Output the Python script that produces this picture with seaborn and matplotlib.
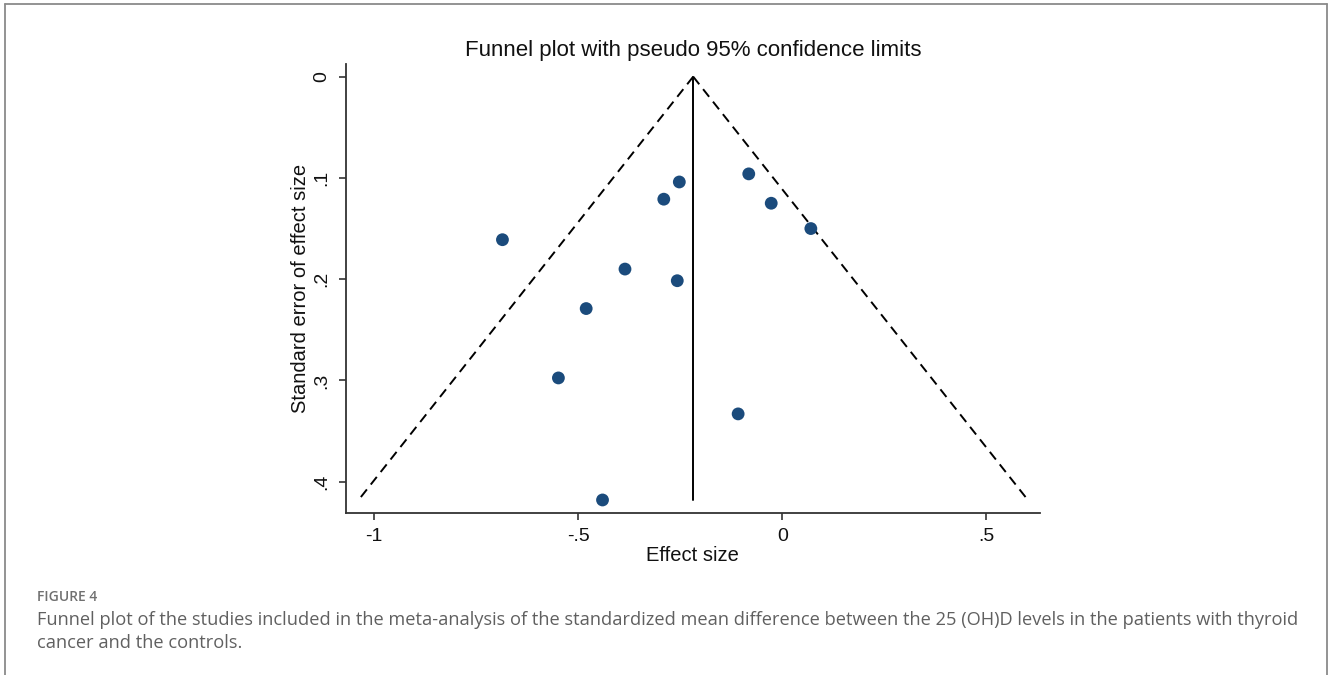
import matplotlib
matplotlib.use("Agg")
import matplotlib.pyplot as plt
import seaborn as sns
import numpy as np
import pandas as pd

# Study-level effect sizes (standardized mean difference) and their standard errors
effect = [-0.685, -0.290, -0.252, -0.082, -0.027, 0.070, -0.385, -0.257, -0.480, -0.548, -0.108, -0.440]
std_err = [0.161, 0.121, 0.104, 0.096, 0.125, 0.150, 0.190, 0.2015, 0.229, 0.2975, 0.333, 0.418]
pooled = -0.218

x_ticks = [-1, -0.5, 0, 0.5]
x_tick_labels = ["-1", "-.5", "0", ".5"]
y_ticks = [0, 0.1, 0.2, 0.3, 0.4]
y_tick_labels = ["0", ".1", ".2", ".3", ".4"]

df = pd.DataFrame({"effect": effect, "se": std_err})

sns.set_theme(style="white")
plt.rcParams["font.family"] = ["Liberation Sans", "DejaVu Sans"]

fig = plt.figure(figsize=(13.28, 6.75), dpi=100)
ax = fig.add_axes([0.2603, 0.2404, 0.7831 - 0.2603, 0.9052 - 0.2404])

# pseudo 95% confidence limits
se_max = max(std_err)
se_line = np.array([0.0, se_max])
ax.plot(pooled - 1.96 * se_line, se_line, color="black", lw=1.4, ls=(0, (5, 3.2)))
ax.plot(pooled + 1.96 * se_line, se_line, color="black", lw=1.4, ls=(0, (5, 3.2)))
ax.plot([pooled, pooled], [0, se_max], color="black", lw=1.4)

sns.scatterplot(data=df, x="effect", y="se", ax=ax, color="#1b4b7c",
                s=85, edgecolor="none", zorder=3)

ax.set_xlim(-1.0688, 0.6309)
ax.set_ylim(0.4306, -0.0125)

ax.set_xticks(x_ticks)
ax.set_xticklabels(x_tick_labels)
ax.set_yticks(y_ticks)
ax.set_yticklabels(y_tick_labels, rotation=90, va="center")

for side in ["top", "right"]:
    ax.spines[side].set_visible(False)
for side in ["left", "bottom"]:
    ax.spines[side].set_color("#333333")
    ax.spines[side].set_linewidth(1.3)

ax.tick_params(axis="both", which="major", direction="out", length=5, width=1.2,
               color="#333333", labelsize=14, labelcolor="#111111", pad=6,
               bottom=True, left=True)

ax.set_xlabel("Effect size", fontsize=14.5, color="#111111", labelpad=1)
ax.set_ylabel("Standard error of effect size", fontsize=14.5, color="#111111", labelpad=2.5)
ax.set_title("Funnel plot with pseudo 95% confidence limits", fontsize=16,
             color="#111111", pad=6)

# Figure caption
cap_font = ["Open Sans", "DejaVu Sans"]
fig.text(37 / 1328, 1 - 597 / 675, "FIGURE 4", fontsize=10, color="#707070",
         family=cap_font, fontweight="semibold", va="center")
fig.text(37 / 1328, 1 - 620 / 675,
         "Funnel plot of the studies included in the meta-analysis of the standardized mean "
         "difference between the 25 (OH)D levels in the patients with thyroid",
         fontsize=13.15, color="#606060", family=cap_font, va="center")
fig.text(37 / 1328, 1 - 643 / 675, "cancer and the controls.",
         fontsize=13.15, color="#606060", family=cap_font, va="center")

# Outer frame (top, left, right)
frame_color = "#8a8a8a"
fig.add_artist(plt.Line2D([4.5 / 1328, 4.5 / 1328], [0, 1 - 4 / 675], color=frame_color,
                          lw=1.3, transform=fig.transFigure))
fig.add_artist(plt.Line2D([1326.5 / 1328, 1326.5 / 1328], [0, 1 - 4 / 675], color=frame_color,
                          lw=1.3, transform=fig.transFigure))
fig.add_artist(plt.Line2D([4.5 / 1328, 1326.5 / 1328], [1 - 4 / 675, 1 - 4 / 675],
                          color=frame_color, lw=1.3, transform=fig.transFigure))

fig.savefig("out.png", dpi=100)
